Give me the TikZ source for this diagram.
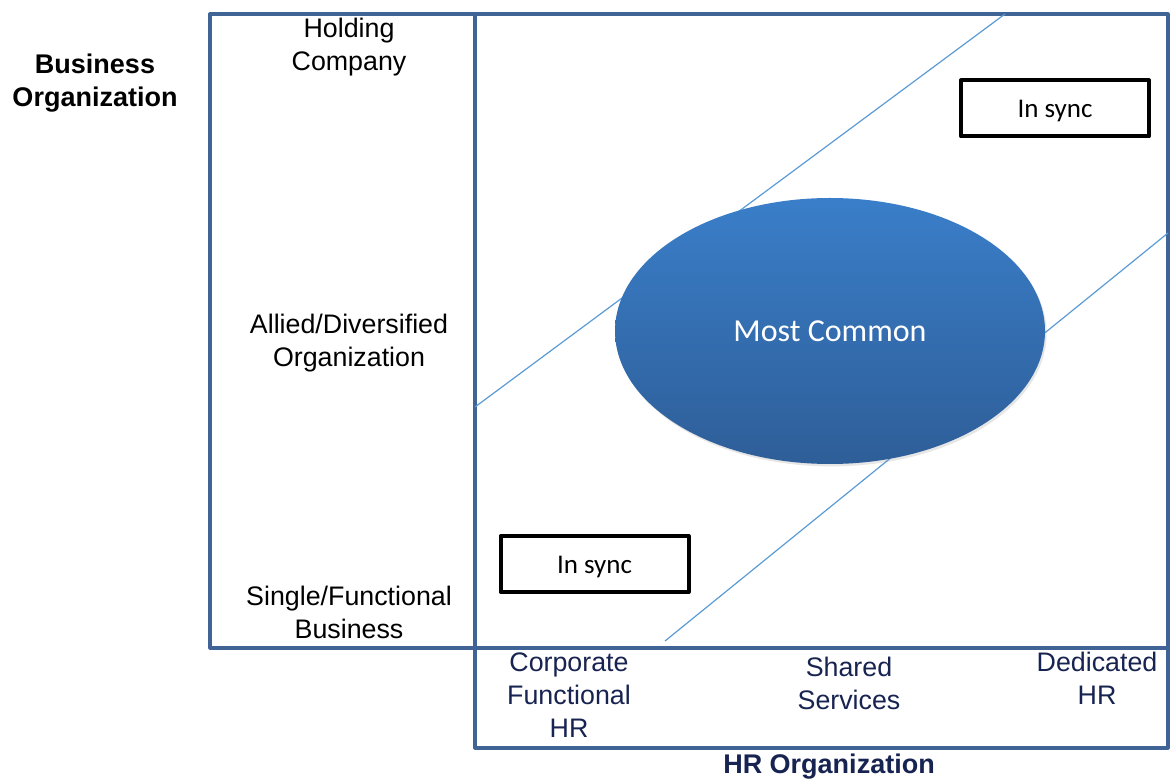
\documentclass[tikz,border=0pt]{standalone}
\usepackage{fontspec}
\setmainfont{Liberation Sans}
\newfontfamily\calibri{Carlito}
\usetikzlibrary{shapes.geometric,shadows}
\definecolor{framec}{RGB}{64,100,150}
\definecolor{diagc}{RGB}{91,155,213}
\definecolor{navy}{RGB}{23,35,80}
\definecolor{ovaltop}{RGB}{58,126,201}
\definecolor{ovalbot}{RGB}{46,94,152}
\tikzset{
  frame/.style={draw=framec,line width=1.6pt},
  diag/.style={draw=diagc,line width=0.6pt},
  rowlabel/.style={align=center,font=\fontsize{13.4}{16.5}\selectfont},
  collabel/.style={rowlabel,text=navy},
  syncbox/.style={draw=black,line width=2pt,minimum width=94pt,minimum height=28pt,
    text height=9.2pt,text depth=0pt,font=\calibri\fontsize{13.5}{16}\selectfont},
}
\begin{document}
\begin{tikzpicture}[x=0.5pt,y=-0.5pt,line join=round]
\useasboundingbox (0,0) rectangle (1171,779);
% frames
\draw[frame] (210,14) rectangle (475,648);
\draw[frame] (475,14) rectangle (1168,648);
\draw[frame] (475,648) rectangle (1168,748);
% band
\draw[diag] (475,407) -- (1005,14);
\draw[diag] (665,641) -- (1168,233);
\node[ellipse,minimum width=215pt,minimum height=133pt,inner sep=0pt,
  top color=ovaltop,bottom color=ovalbot,
  drop shadow={opacity=0.2,shadow xshift=0.8pt,shadow yshift=-1.2pt},
  text=white,font=\calibri\fontsize{16}{18}\selectfont] (common) at (830,331) {Most Common};
\node[syncbox] (syncA) at (1055,108.5) {In sync};
\node[syncbox] (syncB) at (594.5,564) {In sync};
% axis titles
\node[rowlabel,font=\bfseries\fontsize{13.5}{16.5}\selectfont] (busorg) at (95,83.5) {Business\\Organization};
\node[collabel,font=\bfseries\fontsize{13.5}{16.5}\selectfont] (hrorg) at (829,767) {HR Organization};
% business rows
\node[rowlabel] (holding) at (349,47.5) {Holding\\Company};
\node[rowlabel] (allied) at (349,343.5) {Allied/Diversified\\Organization};
\node[rowlabel] (single) at (349,612) {Single/Functional\\Business};
% hr columns
\node[collabel] (corporate) at (569,695) {Corporate\\Functional\\HR};
\node[collabel] (shared) at (849,683) {Shared\\Services};
\node[collabel] (dedicated) at (1097,678) {Dedicated\\HR};
\end{tikzpicture}
\end{document}
